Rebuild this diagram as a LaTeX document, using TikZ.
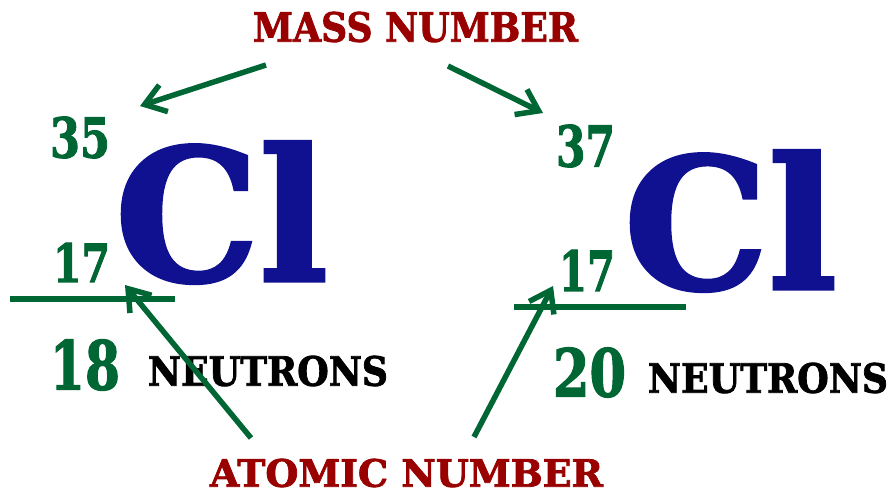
\documentclass[tikz,border=0pt]{standalone}
\usepackage{fontspec}
\setmainfont{DejaVu Serif}[BoldFeatures={FakeBold=2}]
\usepackage{graphicx}
\usetikzlibrary{arrows.meta}

\definecolor{isogreen}{HTML}{006633}
\definecolor{elemblue}{HTML}{0F1190}
\definecolor{labelred}{HTML}{990000}

% text squeezed to a given width and height (in pt)
\newcommand{\fitbox}[3]{\resizebox{#1pt}{#2pt}{\bfseries #3}}

\begin{document}
\begin{tikzpicture}[x=1pt, y=-1pt]
      \tikzset{txt/.style={inner sep=0pt, anchor=center},
               label/.style={txt, text=labelred},
               nucl/.style={txt, text=isogreen},
               elem/.style={txt, text=elemblue},
               bar/.style={draw=isogreen, line width=6pt},
               pointer/.style={draw=isogreen, line width=5.5pt, -{Straight Barb[length=20pt, width=28pt]}}}
      \useasboundingbox (0,0) rectangle (894,494);
      % labels
      \node[label] (mass) at (415.5,27) {\fitbox{325}{30}{MASS NUMBER}};
      \node[label] (atomic) at (406.5,473) {\fitbox{393}{28}{ATOMIC NUMBER}};
      % chlorine-35
      \node[nucl] (a35) at (80,137.5) {\fitbox{60}{41}{35}};
      \node[elem] (clL) at (221.5,212.5) {\fitbox{213}{139}{Cl}};
      \node[nucl] (zL) at (81.5,262.5) {\fitbox{57}{39}{17}};
      \node[nucl] (n18) at (85,365) {\fitbox{70}{50}{18}};
      \node[txt] (neutL) at (268,371) {\fitbox{240}{30}{NEUTRONS}};
      \draw[bar] (10,299) -- (175,299);
      % chlorine-37
      \node[nucl] (a37) at (585.5,146) {\fitbox{59}{42}{37}};
      \node[elem] (clR) at (730.5,221) {\fitbox{213}{138}{Cl}};
      \node[nucl] (zR) at (587,270.5) {\fitbox{56}{41}{17}};
      \node[nucl] (n20) at (589.5,372.5) {\fitbox{73}{49}{20}};
      \node[txt] (neutR) at (768,378) {\fitbox{240}{30}{NEUTRONS}};
      \draw[bar] (514,307) -- (686,307);
      % pointers
      \coordinate (mL) at (266,65);
      \coordinate (mR) at (448,66);
      \coordinate (aL) at (251,438);
      \coordinate (aR) at (474,437);
      \coordinate (tipML) at (140,106);
      \coordinate (tipMR) at (543,113);
      \coordinate (tipAL) at (125,285);
      \coordinate (tipAR) at (553,286);
      \draw[pointer] (mL) -- (tipML);
      \draw[pointer] (mR) -- (tipMR);
      \draw[pointer] (aL) -- (tipAL);
      \draw[pointer] (aR) -- (tipAR);
\end{tikzpicture}
\end{document}
